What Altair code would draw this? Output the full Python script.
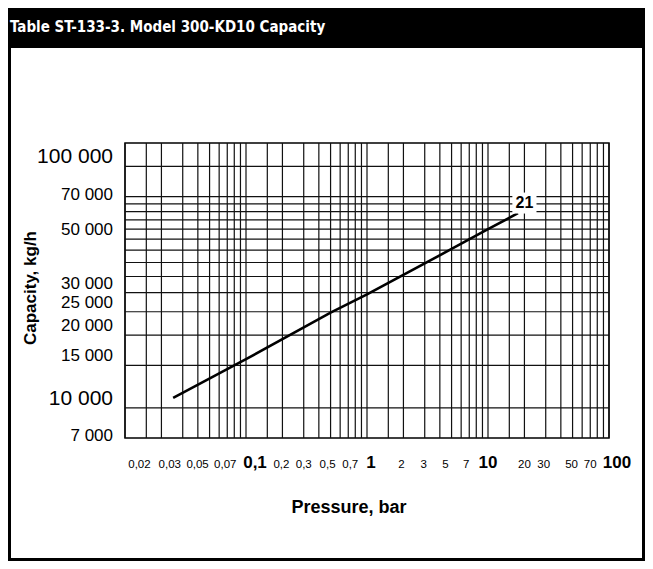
import altair as alt
import pandas as pd

# ---------------- data ----------------
TITLE = "Table ST-133-3. Model 300-KD10 Capacity"
X_TITLE = "Pressure, bar"
Y_TITLE = "Capacity, kg/h"

pressure = [0.025, 0.1, 0.5, 1, 5, 10, 17.7]
capacity = [11000, 15900, 24800, 29500, 45500, 55000, 64000]

curve_label = ["21"]
curve_label_p = [20]
curve_label_c = [70500]

x_label_values = [0.02, 0.03, 0.05, 0.07, 0.1, 0.2, 0.3, 0.5, 0.7, 1,
                  2, 3, 5, 7, 10, 20, 30, 50, 70, 100]
x_label_text = ["0,02", "0,03", "0,05", "0,07", "0,1", "0,2", "0,3", "0,5", "0,7", "1",
                "2", "3", "5", "7", "10", "20", "30", "50", "70", "100"]
x_major = [0.1, 1, 10, 100]

y_label_values = [7000, 10000, 15000, 20000, 25000, 30000, 50000, 70000, 100000]
y_label_text = ["7 000", "10 000", "15 000", "20 000", "25 000", "30 000",
                "50 000", "70 000", "100 000"]
y_major = [10000, 100000]

x_grid_decades = [0.01, 0.1, 1, 10]
x_grid_mult = [1, 1.5, 2, 3, 4, 5, 6, 7, 8, 9]
x_grid_extra = [100]
y_grid = [10000, 15000, 20000, 25000, 30000, 35000, 40000, 45000, 50000,
          55000, 60000, 65000, 70000, 75000, 100000]

X_DOMAIN = [0.01, 100]
Y_DOMAIN = [7500, 125000]

# ---------------- layout / style ----------------
W_TOTAL, H_TOTAL = 637, 553
PAD_L, PAD_T = 117, 135
PLOT_W, PLOT_H = 484, 295
PAD_R = W_TOTAL - PAD_L - PLOT_W
PAD_B = H_TOTAL - PAD_T - PLOT_H
BAND_H = 40
X_DECADES = 4
FONT = "Liberation Sans, Arial, Helvetica, sans-serif"
COND_FONT = "Liberation Sans Narrow, DejaVu Sans Condensed, Arial Narrow, sans-serif"
GRID_COLOR = "#111111"

# pixel nudges for crowded x labels (as in the printed chart)
x_label_nudge = {0.02: -22, 0.03: -13, 0.05: -12, 0.07: -2, 0.1: 9, 0.2: -1,
                 0.5: -3, 0.7: 2, 1: 4, 2: -2, 3: -1, 5: -6, 7: -3, 30: -2,
                 50: -1, 100: 8}

xs = alt.Scale(type="log", domain=X_DOMAIN, nice=False, zero=False)
ys = alt.Scale(type="log", domain=Y_DOMAIN, nice=False, zero=False)

one = pd.DataFrame({"t": [TITLE]})

band = alt.Chart(one).mark_rect(color="black").encode(
    x=alt.value(-PAD_L), x2=alt.value(W_TOTAL - PAD_L),
    y=alt.value(-PAD_T), y2=alt.value(BAND_H - PAD_T),
)
frame = alt.Chart(one).mark_rect(filled=False, stroke="black", strokeWidth=3).encode(
    x=alt.value(-PAD_L + 1.5), x2=alt.value(W_TOTAL - PAD_L - 1.5),
    y=alt.value(-PAD_T + 1.5), y2=alt.value(H_TOTAL - PAD_T - 1.5),
)
title = alt.Chart(one).mark_text(
    align="left", baseline="alphabetic", color="white", font=COND_FONT,
    fontWeight="bold", fontSize=15,
).encode(x=alt.value(-115), y=alt.value(-111), text="t:N")

xg = pd.DataFrame({"v": [d * m for d in x_grid_decades for m in x_grid_mult] + x_grid_extra})
yg = pd.DataFrame({"v": y_grid})

x_rules = alt.Chart(xg).mark_rule(color=GRID_COLOR, strokeWidth=1.2).encode(
    x=alt.X("v:Q", scale=xs, axis=None)
)
y_rules = alt.Chart(yg).mark_rule(color=GRID_COLOR, strokeWidth=1.2).encode(
    y=alt.Y("v:Q", scale=ys, axis=None)
)

curve_df = pd.DataFrame({"pressure": pressure, "capacity": capacity})
curve = alt.Chart(curve_df).mark_line(color="black", strokeWidth=2.6).encode(
    x=alt.X("pressure:Q", scale=xs, axis=None),
    y=alt.Y("capacity:Q", scale=ys, axis=None),
)

lab_df = pd.DataFrame({"p": curve_label_p, "c": curve_label_c, "t": curve_label})
lab_box = alt.Chart(lab_df).mark_point(
    shape="M-1.15,-1L1.15,-1L1.15,1L-1.15,1Z", filled=True, fill="white",
    opacity=1, size=441, strokeWidth=0,
).encode(x=alt.X("p:Q", scale=xs, axis=None), y=alt.Y("c:Q", scale=ys, axis=None))
lab_text = alt.Chart(lab_df).mark_text(
    font=FONT, fontWeight="bold", fontSize=16, color="black", baseline="middle",
).encode(x=alt.X("p:Q", scale=xs, axis=None), y=alt.Y("c:Q", scale=ys, axis=None), text="t:N")

# x tick labels
xlab_df = pd.DataFrame({
    "v": x_label_values,
    "t": x_label_text,
    "major": [v in x_major for v in x_label_values],
    "n": [x_label_nudge.get(v, 0) for v in x_label_values],
})
xlab_base = alt.Chart(xlab_df).transform_calculate(
    xd=f"datum.v * pow(10, datum.n * {X_DECADES} / {PLOT_W})"
)
x_labels_minor = xlab_base.transform_filter("!datum.major").mark_text(
    font=FONT, fontSize=11.5, align="center", baseline="alphabetic", color="black",
).encode(x=alt.X("xd:Q", scale=xs, axis=None), y=alt.value(PLOT_H + 30), text="t:N")
x_labels_major = xlab_base.transform_filter("datum.major").mark_text(
    font=FONT, fontSize=17, fontWeight="bold", align="center", baseline="alphabetic",
    color="black",
).encode(x=alt.X("xd:Q", scale=xs, axis=None), y=alt.value(PLOT_H + 30), text="t:N")

# y tick labels
ylab_df = pd.DataFrame({"v": y_label_values, "t": y_label_text})
y_labels = alt.Chart(ylab_df).mark_text(
    font=FONT, align="right", baseline="middle", dy=-9, color="black",
).encode(
    x=alt.value(-12),
    y=alt.Y("v:Q", scale=ys, axis=None),
    text="t:N",
    size=alt.condition(
        " || ".join(f"datum.v == {v}" for v in y_major), alt.value(21), alt.value(17)
    ),
)

# axis titles
x_title = alt.Chart(pd.DataFrame({"t": [X_TITLE]})).mark_text(
    font=FONT, fontSize=18, fontWeight="bold", align="center", baseline="alphabetic",
    color="black",
).encode(x=alt.value(224), y=alt.value(PLOT_H + 75), text="t:N")
y_title = alt.Chart(pd.DataFrame({"t": [Y_TITLE]})).mark_text(
    font=FONT, fontSize=17, fontWeight="bold", align="center", baseline="alphabetic",
    angle=270, color="black",
).encode(x=alt.value(-89), y=alt.value(145), text="t:N")

chart = alt.layer(
    band, frame, title, x_rules, y_rules, curve, lab_box, lab_text,
    x_labels_minor, x_labels_major, y_labels, x_title, y_title,
).properties(
    width=PLOT_W, height=PLOT_H,
    autosize=alt.AutoSizeParams(type="none"),
    padding={"left": PAD_L, "top": PAD_T, "right": PAD_R, "bottom": PAD_B},
    background="white",
).configure_view(stroke="black", strokeWidth=1.5)

chart.save("out.html", embed_options={"renderer": "svg", "actions": False})
